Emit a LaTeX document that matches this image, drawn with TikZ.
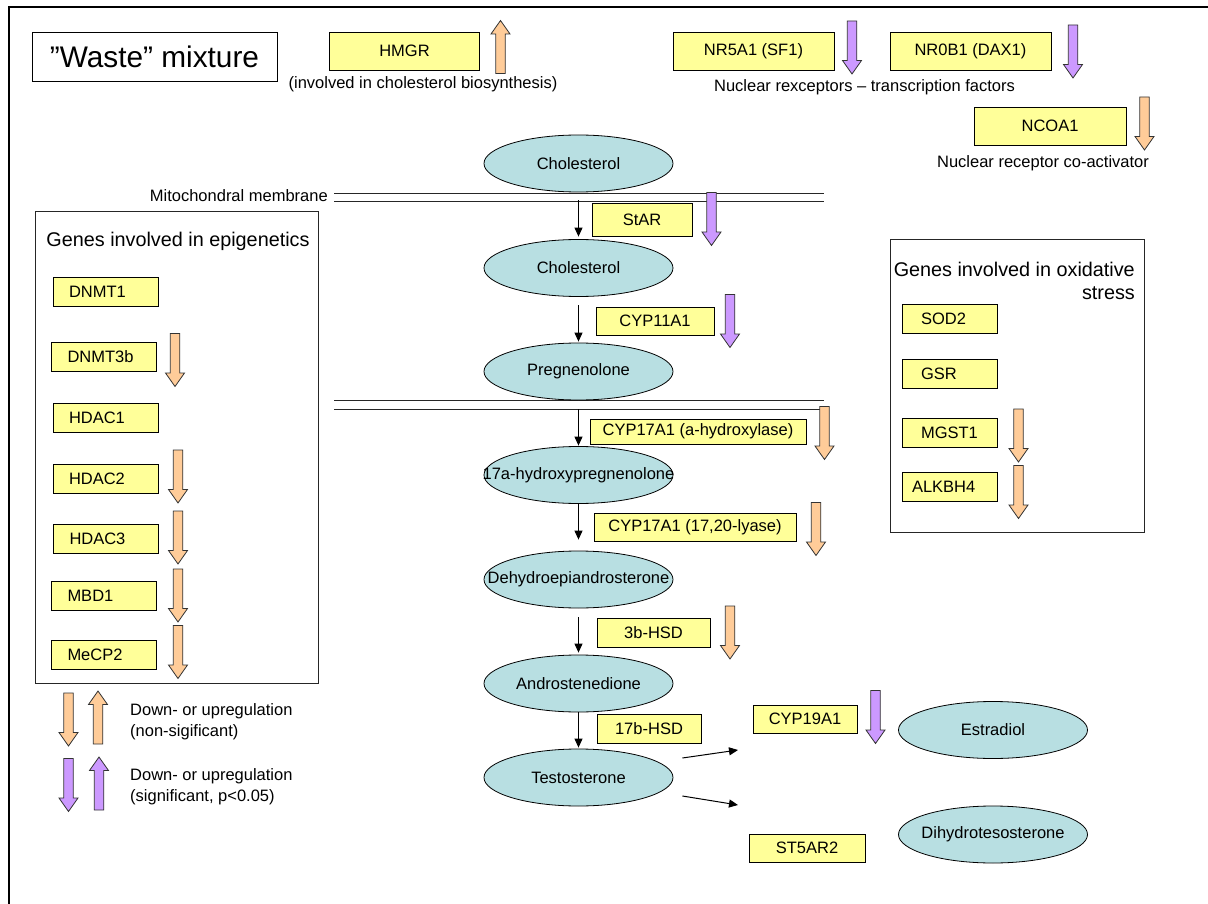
\documentclass[tikz,border=0pt]{standalone}
\usepackage{fontspec}
\setmainfont{Liberation Sans}
\usetikzlibrary{shapes.geometric,arrows.meta,calc}
\definecolor{geneyellow}{RGB}{255,255,153}
\definecolor{steroid}{RGB}{184,223,226}
\definecolor{nsorange}{RGB}{255,204,153}
\definecolor{sigpurple}{RGB}{204,153,255}
\begin{document}
\begin{tikzpicture}[x=1pt,y=-1pt,
  every node/.style={font=\fontsize{16.5}{19}\selectfont},
  gene/.style={draw=black, fill=geneyellow, line width=0.9, inner sep=2pt, minimum height=29},
  topgene/.style={gene, minimum height=38},
  epi/.style={gene, minimum width=105, text width=73, inner xsep=16, align=left},
  ox/.style={gene, minimum width=95, text width=57, inner xsep=19, align=left},
  steroidnode/.style={ellipse, draw=black, fill=steroid, line width=0.8, inner sep=0, minimum width=189, minimum height=57},
  lbl/.style={inner sep=0},
  legend/.style={inner sep=0, align=left, anchor=west, font=\fontsize{16.5}{21}\selectfont},
  title/.style={inner sep=0, font=\fontsize{19.8}{23}\selectfont},
  flow/.style={-{Triangle[length=9,width=8]}, line width=1},
  membrane/.style={line width=0.9, black!85},
  frame/.style={draw=black!85, line width=0.9},
  nsig/.style={fill=nsorange, draw=black!80, line width=0.8},
  sig/.style={fill=sigpurple, draw=black!80, line width=0.8},
  pics/dnarrow/.style={code={\draw[pic actions] (-4.75,-26.5) -- (4.75,-26.5) -- (4.75,13) -- (9.5,13) -- (0,26.5) -- (-9.5,13) -- (-4.75,13) -- cycle;}},
  pics/uparrow/.style={code={\draw[pic actions] (-4.75,26.5) -- (4.75,26.5) -- (4.75,-13) -- (9.5,-13) -- (0,-26.5) -- (-9.5,-13) -- (-4.75,-13) -- cycle;}}
]
\useasboundingbox (0,0) rectangle (1208,904);
% outer frame
\draw[line width=2.4] (9,915) -- (9,7) -- (1215,7);
\node[draw, line width=0.9, minimum width=245, minimum height=49, inner sep=0, font=\fontsize{29.8}{34}\selectfont] (waste) at (154.5,56.5) {”Waste” mixture};

% top genes
\node[topgene, minimum width=150] (hmgr) at (404.5,51) {HMGR};
\pic[nsig] at (500.5,47) {uparrow};
\node[lbl] (hmgrnote) at (423,84) {(involved in cholesterol biosynthesis)};
\node[topgene, minimum width=161] (nr5a1) at (753.5,51) {NR5A1 (SF1)};
\pic[sig] at (852,47.5) {dnarrow};
\node[topgene, minimum width=161] (nr0b1) at (970.5,51) {NR0B1 (DAX1)};
\pic[sig] at (1073,51.5) {dnarrow};
\node[lbl] (nrnote) at (864.5,87) {Nuclear rexceptors – transcription factors};
\node[topgene, minimum width=152] (ncoa1) at (1050,126) {NCOA1};
\pic[nsig] at (1144.5,123.5) {dnarrow};
\node[lbl] (ncoanote) at (1043,163) {Nuclear receptor co-activator};

% membranes
\node[lbl, anchor=east] (membr) at (328,196) {Mitochondral membrane};
\draw[membrane] (334,193) -- (824,193);
\draw[membrane] (334,201) -- (824,201);
\draw[membrane] (334,400) -- (824,400);
\draw[membrane] (334,409) -- (824,409);

% steroid pathway
\node[steroidnode] (chol1) at (578.5,163.5) {\makebox[0pt]{Cholesterol}};
\node[steroidnode] (chol2) at (578.5,268) {\makebox[0pt]{Cholesterol}};
\node[steroidnode] (preg) at (578.5,371.5) {\makebox[0pt]{Pregnenolone}};
\node[steroidnode] (hydroxy) at (578.5,475) {\makebox[0pt]{17a-hydroxypregnenolone}};
\node[steroidnode] (dhea) at (578.5,579.5) {\makebox[0pt]{Dehydroepiandrosterone}};
\node[steroidnode] (andro) at (578.5,683.5) {\makebox[0pt]{Androstenedione}};
\node[steroidnode] (testo) at (578.5,777.5) {\makebox[0pt]{Testosterone}};
\node[steroidnode] (estr) at (993,730) {\makebox[0pt]{Estradiol}};
\node[steroidnode] (dht) at (993,834.5) {\makebox[0pt]{Dihydrotesosterone}};

\draw[flow, shorten <=8, shorten >=2.5] (chol1) -- (chol2);
\draw[flow, shorten <=8.5, shorten >=1] (chol2) -- (preg);
\draw[flow, shorten <=9, shorten >=0.5] (preg) -- (hydroxy);
\draw[flow, shorten >=11] (hydroxy) -- (dhea);
\draw[flow, shorten <=9, shorten >=2] (dhea) -- (andro);
\draw[flow, shorten >=1] (andro) -- (testo);
\coordinate (toestr) at (738,750);
\coordinate (todht) at (738,805);
\draw[flow] ($(testo.east)+(9,-19.5)$) -- (toestr);
\draw[flow] ($(testo.east)+(9,18.5)$) -- (todht);

\node[gene, minimum width=100, minimum height=33] (star) at (642,219.5) {StAR};
\pic[sig] at (711.5,219) {dnarrow};
\node[gene, minimum width=118, minimum height=28] (cyp11) at (655,321) {CYP11A1};
\pic[sig] at (730,321) {dnarrow};
\node[gene, minimum width=216, minimum height=25] (cyp17a) at (698,431.5) {CYP17A1 (a-hydroxylase)};
\pic[nsig] at (824.5,433) {dnarrow};
\node[gene, minimum width=202, minimum height=28] (cyp17b) at (695,527) {CYP17A1 (17,20-lyase)};
\pic[nsig] at (816,529) {dnarrow};
\node[gene, minimum width=113] (hsd3) at (653.5,632.5) {3b-HSD};
\pic[nsig] at (730,632.5) {dnarrow};
\node[gene, minimum width=104] (hsd17) at (649,728.5) {17b-HSD};
\node[gene, minimum width=104, minimum height=28] (cyp19) at (805,719) {CYP19A1};
\pic[sig] at (875.5,717) {dnarrow};
\node[gene, minimum width=116, minimum height=28] (st5ar2) at (807,848) {ST5AR2};

% epigenetics
\draw[frame] (35,211) rectangle (318,683);
\node[title] (epititle) at (178,241) {Genes involved in epigenetics};
\node[epi] (dnmt1) at (105.5,291.5) {DNMT1};
\node[epi] (dnmt3b) at (104,356.5) {DNMT3b};
\pic[nsig] at (175,360) {dnarrow};
\node[epi] (hdac1) at (105.5,417.5) {HDAC1};
\node[epi] (hdac2) at (105.5,479) {HDAC2};
\pic[nsig] at (178,476.5) {dnarrow};
\node[epi] (hdac3) at (106,538.5) {HDAC3};
\pic[nsig] at (178,537.5) {dnarrow};
\node[epi] (mbd1) at (104,596) {MBD1};
\pic[nsig] at (178,595.5) {dnarrow};
\node[epi] (mecp2) at (104,655) {MeCP2};
\pic[nsig] at (178,652) {dnarrow};

% oxidative stress
\draw[frame] (890,239) rectangle (1144,532);
\node[title, align=right, anchor=east] (oxtitle) at (1135,280.5) {Genes involved in oxidative\\stress};
\node[ox] (sod2) at (949.5,318.5) {SOD2};
\node[ox] (gsr) at (949.5,374) {GSR};
\node[ox] (mgst1) at (949.5,432.5) {MGST1};
\pic[nsig] at (1018.5,435.5) {dnarrow};
\node[ox, inner xsep=10, text width=75] (alkbh4) at (949.5,486.5) {ALKBH4};
\pic[nsig] at (1018.5,492) {dnarrow};

% legend
\pic[nsig] at (68.5,719.5) {dnarrow};
\pic[nsig] at (98,717.5) {uparrow};
\node[legend] (legns) at (130,721.5) {Down- or upregulation\\(non-sigificant)};
\pic[sig] at (68.5,785) {dnarrow};
\pic[sig] at (99,783.5) {uparrow};
\node[legend] (legsig) at (130,786.5) {Down- or upregulation\\(significant, p<0.05)};
\end{tikzpicture}
\end{document}
